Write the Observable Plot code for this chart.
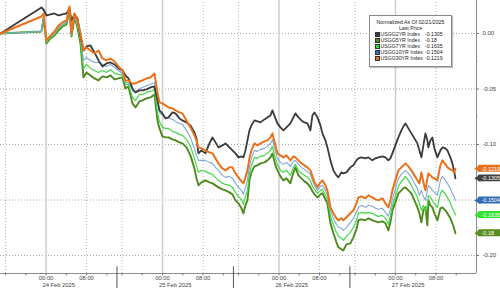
<!DOCTYPE html>
<html><head><meta charset="utf-8">
<script src="https://cdn.jsdelivr.net/npm/d3@7"></script>
<script src="https://cdn.jsdelivr.net/npm/@observablehq/plot@0.6"></script>
<style>
body{margin:0;background:#fff;}
#wrap{position:relative;width:500px;height:288px;overflow:hidden;font-family:"Liberation Sans",Arial,sans-serif;background:#fff;}
#legend{position:absolute;left:369px;top:15px;width:83px;height:52px;border:1px solid #8a8a8a;background:#fff;box-shadow:1px 1px 1px rgba(0,0,0,0.25);font-size:5.2px;color:#222;box-sizing:border-box;padding-top:3px;}
#legend .c{text-align:center;line-height:6px;height:6px;white-space:nowrap;}
#legend .r{position:relative;line-height:6px;height:6px;white-space:nowrap;}
#legend .sq{position:absolute;left:4.5px;top:1.2px;width:3.2px;height:3.2px;border:0.5px solid #333;}
#legend .nm{position:absolute;left:10.5px;top:0;}
#legend .vl{position:absolute;left:55px;top:0;}
</style></head><body><div id="wrap"></div>
<script>
// session hours since chart start (each trading session shown = 23 hours, starting 15:00)
const hours = [0,8.09,8.49,9.08,9.87,10.66,11.45,12.24,13.03,13.62,14.02,14.61,15.2,15.79,16.39,16.98,17.77,18.56,19.35,20.14,20.93,21.72,22.51,23.3,24.09,24.68,25.27,26.06,26.65,27.44,28.04,28.83,29.61,30.4,31.0,31.39,31.98,32.58,33.17,33.96,34.55,35.34,35.93,36.72,37.51,38.3,38.7,39.09,39.68,40.47,41.26,41.86,42.45,43.04,43.83,44.42,45.21,45.8,46.4,46.99,47.58,47.98,48.37,48.77,49.16,49.56,50.15,50.74,51.33,52.12,52.71,53.31,53.7,54.29,54.69,55.28,55.87,56.47,57.25,57.85,58.24,58.83,59.43,60.02,60.61,61.2,61.6,61.99,62.59,63.18,63.57,64.16,64.56,65.15,65.74,66.34,66.73,67.32,67.72,68.31,69.1,69.69,70.29,70.68,71.27,72.06,72.65,73.44,74.04,74.63,75.42,76.01,76.6,77.0,77.39,77.98,78.58,79.17,79.57,79.96,80.55,81.14,81.74,82.33,82.72,83.12,83.51,83.91,84.3,84.5,84.89,85.29,85.68,86.28,86.87,87.27,87.86,88.25,88.84,89.24,89.63,89.83];

const usgg2 = [0,.0234,.0216,.0162,.0171,.018,.0162,.0171,.018,.0225,
.0117,.0171,.0135,-.0018,-.0153,-.0117,-.0108,-.0171,-.0243,-.0297,
-.027,-.0261,-.0279,-.0315,-.0333,-.0378,-.0405,-.0495,-.0531,-.0513,
-.0513,-.0504,-.0486,-.0477,-.0603,-.0693,-.072,-.0765,-.0756,-.0711,
-.072,-.0765,-.0783,-.0801,-.0828,-.0891,-.0945,-.108,-.1053,-.108,
-.099,-.0936,-.0981,-.1026,-.1008,-.099,-.1026,-.1053,-.108,-.1116,
-.1107,-.1116,-.1053,-.0963,-.0873,-.0828,-.0783,-.0792,-.0801,-.0774,
-.0756,-.0738,-.0693,-.0765,-.081,-.0846,-.0873,-.0846,-.081,-.0756,
-.072,-.0756,-.0783,-.0801,-.081,-.0873,-.0738,-.0711,-.0756,-.0828,
-.09,-.0963,-.1026,-.1143,-.1233,-.1278,-.1296,-.1251,-.126,-.1251,
-.1206,-.1188,-.1143,-.1125,-.1116,-.1125,-.1116,-.1143,-.1125,-.1116,
-.1107,-.1116,-.1143,-.1125,-.108,-.1008,-.0936,-.0873,-.0837,-.081,
-.0855,-.09,-.0945,-.099,-.1053,-.1116,-.1008,-.09,-.0963,-.1026,
-.0963,-.0936,-.1035,-.1116,-.1053,-.1026,-.1035,-.1053,-.1116,-.117,-.1251,-.1305];

const usgg5 = [0,.0018,.0135,-.009,-.0045,-.0018,.0027,.0063,.0081,.0216,
-.0027,.0144,.0054,-.009,-.0396,-.0351,-.0378,-.0405,-.0423,-.0387,
-.0396,-.0378,-.0414,-.0405,-.0396,-.0495,-.0477,-.063,-.0666,-.0612,
-.0603,-.0585,-.0576,-.0549,-.0783,-.0855,-.0927,-.0936,-.0936,-.0954,
-.0963,-.0981,-.099,-.1026,-.1098,-.1215,-.1305,-.1368,-.1341,-.1323,
-.1341,-.135,-.1368,-.1386,-.1404,-.1413,-.1431,-.1449,-.1503,-.153,
-.1575,-.162,-.1548,-.1503,-.1323,-.1251,-.1197,-.1188,-.117,-.1161,
-.1143,-.1116,-.108,-.1188,-.1233,-.1287,-.1323,-.1305,-.135,-.1251,
-.1206,-.1278,-.1305,-.1332,-.135,-.1386,-.1422,-.1449,-.1476,-.1449,
-.144,-.1494,-.153,-.171,-.18,-.1881,-.1926,-.1944,-.1953,-.1899,
-.189,-.1836,-.1764,-.1683,-.1674,-.1683,-.1665,-.1683,-.1692,-.1701,
-.1692,-.171,-.1773,-.1701,-.1593,-.1521,-.144,-.1413,-.1395,-.1386,
-.1413,-.144,-.1503,-.1566,-.162,-.1701,-.1593,-.1566,-.1728,-.1503,
-.1548,-.1566,-.162,-.1683,-.1575,-.1566,-.1593,-.162,-.1665,-.171,-.1764,-.18];

const usgg7 = [0,.0018,.0144,-.0081,-.0036,-.0009,.0045,.0072,.0099,.0225,
-.0018,.0153,.0072,-.0063,-.0315,-.0279,-.0315,-.0333,-.0351,-.0333,
-.0351,-.0324,-.036,-.0369,-.0378,-.0459,-.0459,-.0576,-.0603,-.0549,
-.0549,-.0531,-.0522,-.0504,-.0711,-.0792,-.0846,-.0855,-.0855,-.0882,
-.0891,-.0909,-.0918,-.0954,-.1017,-.1125,-.1188,-.1251,-.1233,-.1242,
-.126,-.1269,-.1296,-.1323,-.135,-.1359,-.1368,-.1386,-.1431,-.1467,
-.1494,-.1539,-.1467,-.1413,-.126,-.1188,-.1116,-.1125,-.1107,-.1098,
-.108,-.1053,-.1017,-.1125,-.1179,-.1233,-.1251,-.1233,-.1278,-.1206,
-.1179,-.1233,-.126,-.1278,-.1296,-.1323,-.1377,-.1404,-.144,-.1413,
-.1404,-.1458,-.1494,-.1638,-.1728,-.1791,-.1827,-.1845,-.1863,-.1827,
-.1791,-.1746,-.1683,-.162,-.1611,-.162,-.1611,-.162,-.1638,-.1647,
-.1638,-.1665,-.1719,-.1647,-.1548,-.1467,-.1377,-.1332,-.1314,-.1287,
-.1323,-.1368,-.1422,-.1476,-.153,-.1593,-.1548,-.1593,-.1548,-.1458,
-.1476,-.1503,-.153,-.1566,-.144,-.1413,-.1449,-.1476,-.153,-.1575,-.1611,-.1635];

const usgg10 = [0,.0018,.0153,-.0072,-.0027,0,.0054,.0081,.0099,.0234,
-.0009,.0162,.009,-.0036,-.0243,-.0216,-.0243,-.0261,-.0261,-.0279,
-.0297,-.0279,-.0306,-.0333,-.036,-.0441,-.0441,-.0513,-.0531,-.0495,
-.0486,-.0468,-.0459,-.0441,-.0621,-.0711,-.0738,-.0765,-.0756,-.0774,
-.0792,-.081,-.0819,-.0873,-.0936,-.1035,-.1098,-.1143,-.1143,-.1143,
-.1161,-.117,-.1206,-.1233,-.1278,-.1296,-.1287,-.1305,-.135,-.1386,
-.1413,-.1449,-.1386,-.1323,-.1197,-.1125,-.1053,-.1062,-.1044,-.1035,
-.1017,-.099,-.0954,-.1062,-.1125,-.1161,-.1179,-.1161,-.1197,-.1152,
-.1143,-.1179,-.1206,-.1224,-.1242,-.1269,-.1323,-.1368,-.1413,-.1377,
-.1368,-.1413,-.1458,-.1593,-.1665,-.1719,-.1746,-.1755,-.1773,-.1746,
-.1701,-.1665,-.1611,-.1566,-.1548,-.1566,-.1548,-.1557,-.1575,-.1584,
-.1575,-.1611,-.1647,-.1584,-.1494,-.1404,-.1305,-.1269,-.1251,-.1233,
-.126,-.1296,-.135,-.1395,-.1458,-.1413,-.1467,-.1503,-.1413,-.1368,
-.1386,-.1413,-.1431,-.1458,-.1323,-.1287,-.1323,-.135,-.1395,-.144,-.1476,-.1504];

const usgg30 = [0,.0153,.018,-.0063,-.0018,.0018,.0072,.0099,.0117,.0243,
0,.018,.0117,0,-.0153,-.0126,-.0153,-.018,-.0153,-.0225,
-.0243,-.0225,-.0252,-.0297,-.0333,-.0423,-.0423,-.045,-.045,-.0432,
-.0423,-.0405,-.0396,-.036,-.0531,-.0621,-.063,-.0648,-.0666,-.0675,
-.0693,-.0711,-.072,-.0783,-.0846,-.0918,-.0963,-.1026,-.1035,-.1053,
-.1071,-.108,-.1125,-.117,-.1215,-.1233,-.1206,-.1206,-.126,-.1296,
-.1332,-.135,-.1296,-.1233,-.1125,-.1053,-.099,-.1008,-.099,-.0972,
-.0963,-.0936,-.09,-.1008,-.108,-.1098,-.1116,-.1098,-.1143,-.1107,
-.1116,-.1143,-.117,-.1188,-.1206,-.1233,-.1287,-.1341,-.1386,-.1341,
-.1323,-.1368,-.1413,-.1566,-.162,-.1665,-.1683,-.1665,-.1683,-.1656,
-.162,-.1593,-.153,-.1476,-.1467,-.1485,-.1458,-.1476,-.1494,-.1503,
-.1485,-.153,-.1566,-.1503,-.1413,-.1323,-.1233,-.1206,-.1188,-.117,
-.1197,-.1233,-.1278,-.1323,-.135,-.1251,-.1341,-.1413,-.1305,-.126,
-.1278,-.1296,-.1305,-.1323,-.1188,-.1143,-.1179,-.1206,-.1224,-.1233,-.1251,-.1219];

const seriesNames = ["USGG2YR Index","USGG5YR Index","USGG7YR Index","USGG10YR Index","USGG30YR Index"];
const lastPrices = ["-0.1305","-0.18","-0.1635","-0.1504","-0.1219"];
const legendTitle = "Normalized As Of 02/21/2025";
const legendSub = "Last Price";
const dayLabels = ["24 Feb 2025","25 Feb 2025","26 Feb 2025","27 Feb 2025"];
const clockLabels = ["00:00","08:00"];
const yTickValues = [0, -0.05, -0.10, -0.15, -0.20];

// styles
const lineColors = ["#3a3a3a","#4c8a1c","#45d845","#7ea8d6","#e8711a"];
const legendColors = ["#3a3a3a","#4c8a1c","#2ee02e","#2d6db4","#e4701c"];
const boxColors = ["#404040","#5b8d1e","#2fe22f","#2f6cb3","#e4701c"];
const lineWidths = [1.8,1.9,1.2,1.1,2];

const sessionLen = 23, sessionStart = 15; // session 15:00 -> 14:00
const xMax = 94, yMin = -0.2162, yMax = 0.0297;
const clockOffset = h => ((h - sessionStart) + 24) % 24;
const nDays = dayLabels.length;
const days = d3.range(nDays);
const midnights = days.map(d => d*sessionLen + clockOffset(0));
const dottedTimes = days.flatMap(d => [d*sessionLen + clockOffset(16), d*sessionLen + clockOffset(8)]);
const minorTimes = days.flatMap(d => [16,20,0,4,8,12].map(h => d*sessionLen + clockOffset(h)));
const seps = d3.range(1, nDays).map(d => d*sessionLen);
const labelTicks = days.flatMap(d => clockLabels.map(l => ({t: d*sessionLen + clockOffset(+l.slice(0,2)), l})));
const dateTicks = days.map(d => ({t: d*sessionLen + sessionLen/2, l: dayLabels[d]}));
const yMinor = yTickValues.slice(0,-1).map(v => v - 0.025);
const fmt = v => Math.abs(v) < 1e-9 ? "0.00" : v.toFixed(2);

const allSeries = [usgg2, usgg5, usgg7, usgg10, usgg30];
const n = hours.length;
const mk = (arr) => arr.slice(0, n).map((v, i) => ({t: hours[i], v}));
const drawOrder = [1, 2, 3, 0, 4];

const endLabels = allSeries.map((arr, i) => ({v: arr[arr.length-1], c: boxColors[i], label: lastPrices[i]}));
// tick labels hidden behind the last-value boxes (as in the reference)
const yLabelValues = yTickValues.filter(v => !endLabels.some(e => Math.abs(e.v - v) < 0.006));

const chart = Plot.plot({
  width: 500, height: 288,
  marginLeft: 0, marginRight: 24, marginTop: 0, marginBottom: 15,
  x: {domain: [0, xMax], axis: null},
  y: {domain: [yMin, yMax], axis: null},
  color: {type: "identity"},
  style: {fontFamily: "Liberation Sans, Arial, sans-serif", background: "white", overflow: "visible"},
  marks: [
    Plot.ruleY(yTickValues, {x1: 0, x2: xMax, stroke: "#a8a8a8", strokeDasharray: "1,2"}),
    Plot.ruleX(dottedTimes, {y1: yMin, y2: yMax, stroke: "#b4b4b4", strokeDasharray: "1,2"}),
    Plot.ruleX(midnights, {y1: yMin, y2: yMax, stroke: "#cdcdcd", strokeWidth: 1.5}),
    ...drawOrder.map(i => Plot.line(mk(allSeries[i]), {x: "t", y: "v", stroke: lineColors[i], strokeWidth: lineWidths[i], strokeLinejoin: "round"})),
    Plot.ruleX([xMax], {y1: yMin, y2: yMax, stroke: "#8c8c8c"}),
    Plot.ruleY([yMin], {x1: 0, x2: xMax, stroke: "#8c8c8c"}),
    Plot.ruleY(yTickValues, {x1: xMax, x2: xMax + 0.6, stroke: "#777"}),
    Plot.ruleY(yMinor, {x1: xMax, x2: xMax + 0.35, stroke: "#999"}),
    Plot.text(yLabelValues, {x: xMax, y: d => d, text: fmt, textAnchor: "start", dx: 6, fontSize: 6, fill: "#444"}),
    Plot.ruleX(minorTimes, {y1: yMin, y2: yMin - 0.0022, stroke: "#777"}),
    Plot.ruleX(seps, {y1: yMin + 0.006, y2: yMin - 0.015, stroke: "#555"}),
    Plot.text(labelTicks, {x: "t", y: yMin, text: "l", dy: 5, fontSize: 5.8, fill: "#444"}),
    Plot.text(dateTicks, {x: "t", y: yMin, text: "l", dy: 12, fontSize: 5.8, fill: "#444"}),
    Plot.rect(endLabels, {x1: xMax + 0.35, x2: xMax + 7, y1: d => d.v - 0.0031, y2: d => d.v + 0.0031, fill: "c", rx: 1.5}),
    Plot.dot(endLabels, {x: xMax + 0.35, y: "v", symbol: "triangle", r: 2.6, rotate: -90, fill: "c", stroke: null}),
    Plot.text(endLabels, {x: xMax, y: "v", text: "label", dx: 5, textAnchor: "start", fill: "white", fontSize: 5.5})
  ]
});

const wrap = document.getElementById("wrap");
wrap.appendChild(chart);

// legend overlay
const lg = document.createElement("div");
lg.id = "legend";
let html = `<div class="c">${legendTitle}</div><div class="c">${legendSub}</div>`;
seriesNames.forEach((s, i) => {
  html += `<div class="r"><span class="sq" style="background:${legendColors[i]}"></span><span class="nm">${s}</span><span class="vl">${lastPrices[i]}</span></div>`;
});
lg.innerHTML = html;
wrap.appendChild(lg);
</script>
</body></html>
